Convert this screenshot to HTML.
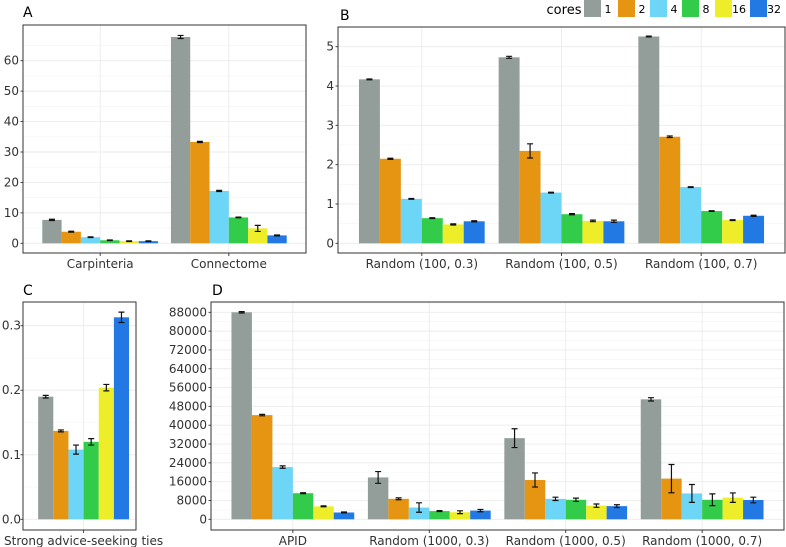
<!DOCTYPE html>
<html><head><meta charset="utf-8"><style>
body{margin:0;background:#fff;}
svg{display:block;font-family:"DejaVu Sans","Liberation Sans",sans-serif;}
</style></head><body>
<svg id="chart" width="786" height="547" viewBox="0 0 786 547" xmlns="http://www.w3.org/2000/svg"></svg>
<script>
const coreLabels = ["1","2","4","8","16","32"];
const colors = ["#939e9b","#e69512","#6dd5f6","#33cc4a","#eded2a","#2279e3"];

const catsA = ["Carpinteria","Connectome"];
const valsA = [[7.7,3.8,2.0,1.0,0.7,0.7],[67.8,33.3,17.2,8.5,4.9,2.6]];
const errA  = [[0.2,0.15,0.1,0.1,0.1,0.1],[0.5,0.2,0.2,0.1,1.0,0.15]];
const ticksA = [0,10,20,30,40,50,60];

const catsB = ["Random (100, 0.3)","Random (100, 0.5)","Random (100, 0.7)"];
const valsB = [[4.17,2.15,1.13,0.64,0.48,0.56],[4.73,2.35,1.29,0.74,0.57,0.56],[5.26,2.71,1.43,0.82,0.59,0.70]];
const errB  = [[0.01,0.015,0.01,0.01,0.015,0.015],[0.025,0.18,0.01,0.015,0.02,0.03],[0.01,0.02,0.01,0.01,0.01,0.015]];
const ticksB = [0,1,2,3,4,5];

const catsC = ["Strong advice-seeking ties"];
const valsC = [[0.190,0.137,0.108,0.120,0.204,0.313]];
const errC  = [[0.002,0.0015,0.007,0.005,0.005,0.008]];
const ticksC = [0,0.1,0.2,0.3];
const tickLabelsC = ["0.0","0.1","0.2","0.3"];

const catsD = ["APID","Random (1000, 0.3)","Random (1000, 0.5)","Random (1000, 0.7)"];
const valsD = [[88000,44300,22200,11100,5500,2900],[17800,8700,5000,3500,3000,3700],[34500,16700,8700,8300,5800,5600],[51000,17300,11000,8300,9200,8200]];
const errD  = [[300,300,500,200,200,200],[2500,400,2000,200,600,500],[4000,3000,700,700,700,600],[700,6000,3800,2500,2000,1200]];
const ticksD = [0,8000,16000,24000,32000,40000,48000,56000,64000,72000,80000,88000];

const svg = document.getElementById('chart');
const NS = "http://www.w3.org/2000/svg";
function mk(tag, attrs, parent){const e=document.createElementNS(NS,tag);for(const k in attrs)e.setAttribute(k,attrs[k]);(parent||svg).appendChild(e);return e;}

function panel(o){
  const g = mk('g',{});
  
  
  const ymap = v => o.y0 - v / o.ymaxV * (o.y0 - o.ymaxPx);
  const step = o.step || (o.x2 - o.x1) / (o.cats.length - 1 + 1.2);
  const center = i => o.x1 + step * (0.6 + i);
  const half = (o.ticks[1]-o.ticks[0])/2;
  const tickGap = o.tickGap || 4;
  for (let i=0;i<o.ticks.length;i++){
    const t=o.ticks[i];
    const gl = mk('line',{x1:o.x1,x2:o.x2,y1:ymap(t),y2:ymap(t),stroke:'#ebebeb','stroke-width':0.9},g);
    
    
    if (ymap(t+half) > o.top) mk('line',{x1:o.x1,x2:o.x2,y1:ymap(t+half),y2:ymap(t+half),stroke:'#f4f4f4','stroke-width':0.6},g);
    const tl = mk('text',{x:o.x1-tickGap,y:ymap(t)+4,'text-anchor':'end','font-size':12,fill:'#333'},g);
    tl.textContent = o.tickLabels ? o.tickLabels[i] : String(t);
    
    
    mk('line',{x1:o.x1-2.5,x2:o.x1,y1:ymap(t),y2:ymap(t),stroke:'#333','stroke-width':0.9},g);
  }
  for (let c=0;c<o.cats.length;c++){
    const cx=center(c);
    mk('line',{x1:cx,x2:cx,y1:o.top,y2:o.bottom,stroke:'#ebebeb','stroke-width':0.9},g);
    const gw = step*0.9, bw = gw/6;
    for (let s=0;s<6;s++){
      const v=o.vals[c][s], bx = cx - gw/2 + s*bw;
      const r = mk('rect',{x:bx,y:ymap(v),width:bw,height:o.y0-ymap(v),fill:colors[s]},g);
      
      
      const e=o.errs[c][s], ex=bx+bw/2, yt=ymap(v+e), yb=ymap(v-e);
      const eg = mk('path',{d:`M${ex-3},${yt}H${ex+3}M${ex},${yt}V${yb}M${ex-3},${yb}H${ex+3}`,stroke:'#111','stroke-width':1.2,fill:'none'},g);
      
      
    }
    mk('line',{x1:cx,x2:cx,y1:o.bottom,y2:o.bottom+3,stroke:'#333','stroke-width':0.9},g);
    const xl = mk('text',{x:cx,y:o.bottom+15,'text-anchor':'middle','font-size':12,fill:'#333'},g);
    xl.textContent=o.cats[c];
    
    
  }
  const b = mk('rect',{x:o.x1,y:o.top,width:o.x2-o.x1,height:o.bottom-o.top,fill:'none',stroke:'#333','stroke-width':1},g);
  
  
  const pl = mk('text',{x:o.lx,y:o.ly,'font-size':14,fill:'#000'},g);
  pl.textContent=o.label;
  
  
}

panel({name:'panel-a',key:'a',label:'A',lx:23,ly:17,x1:23,x2:306,top:25,bottom:253,y0:243.3,ymaxV:60,ymaxPx:60.7,cats:catsA,vals:valsA,errs:errA,ticks:ticksA});
panel({name:'panel-b',key:'b',label:'B',lx:340,ly:20,x1:338,x2:785,top:27,bottom:253,y0:243.3,ymaxV:5,ymaxPx:46.7,cats:catsB,vals:valsB,errs:errB,ticks:ticksB});
panel({name:'panel-c',key:'c',label:'C',lx:23,ly:295,x1:23,x2:136,step:101,tickGap:2,top:302,bottom:530,y0:519.3,ymaxV:0.3,ymaxPx:325.7,cats:catsC,vals:valsC,errs:errC,ticks:ticksC,tickLabels:tickLabelsC});
panel({name:'panel-d',key:'d',label:'D',lx:212,ly:295,x1:211,x2:784,top:302,bottom:530,y0:519.3,ymaxV:88000,ymaxPx:312.3,cats:catsD,vals:valsD,errs:errD,ticks:ticksD});

const lg = mk('g',{});


const lt = mk('text',{x:564,y:14,'text-anchor':'middle','font-size':13,fill:'#000'},lg);
lt.textContent='cores';
const swx=[584,618,650,682,715,750];
for(let i=0;i<6;i++){
  const r=mk('rect',{x:swx[i],y:0,width:17,height:17,fill:colors[i]},lg);
  
  
  const t=mk('text',{x:swx[i]+24,y:13,'text-anchor':'middle','font-size':11,fill:'#000'},lg);
  t.textContent=coreLabels[i];
  
  
}
</script>
</body></html>
